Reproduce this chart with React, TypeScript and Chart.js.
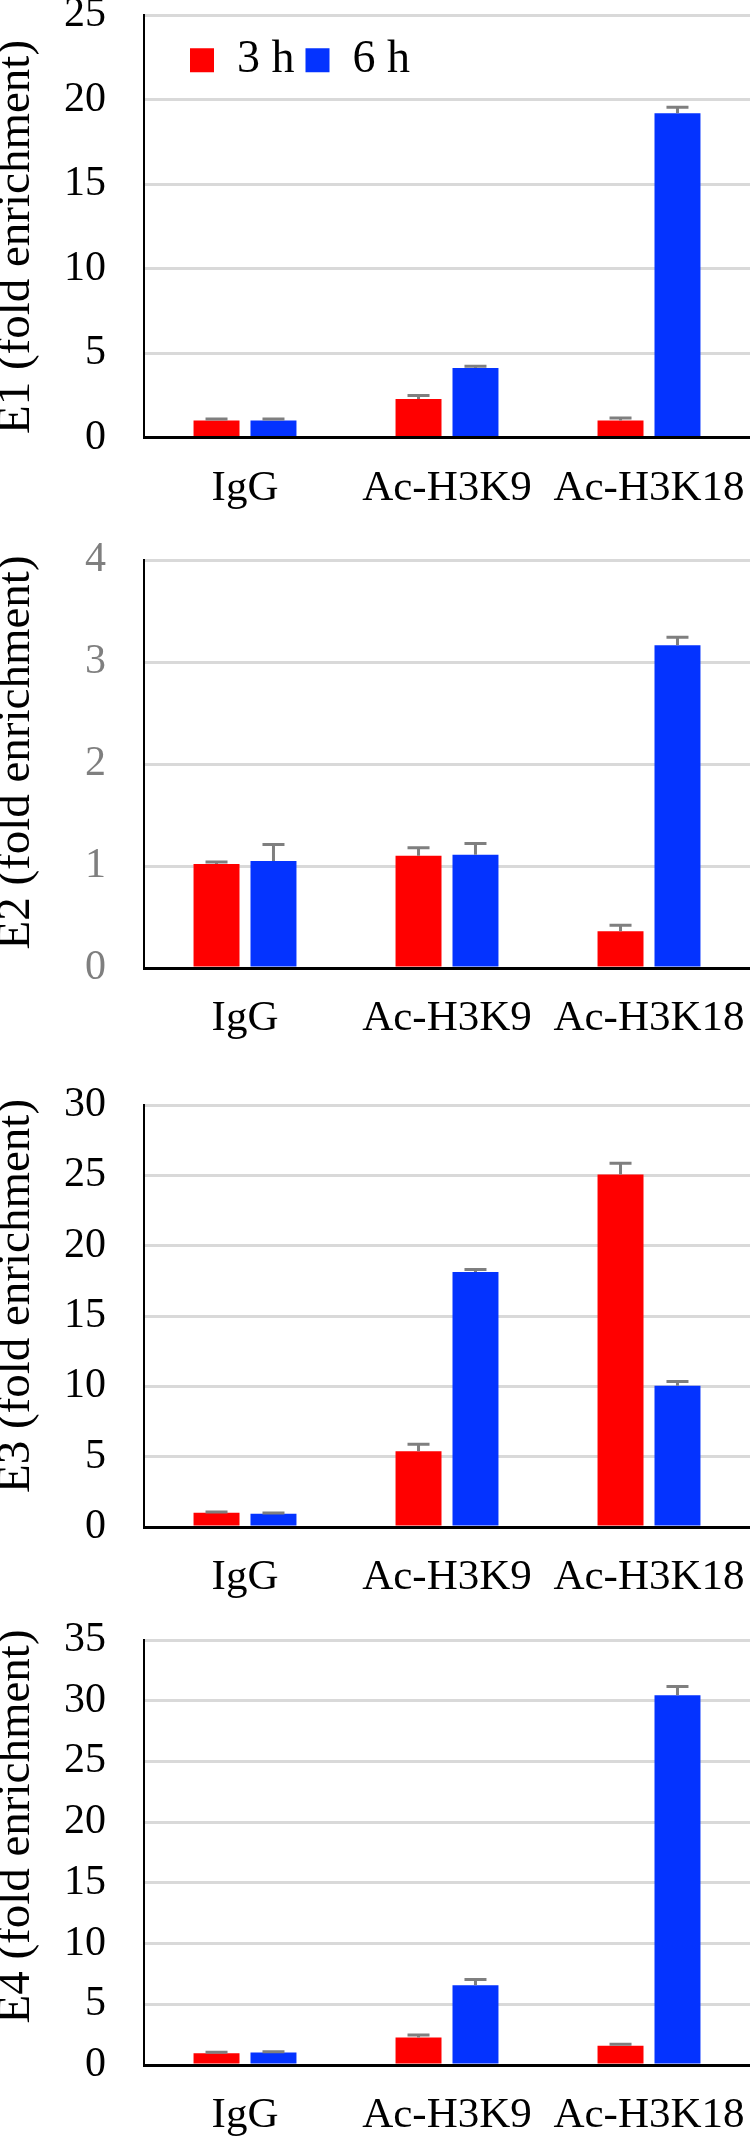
import React, { useEffect, useRef } from "react";
import { Chart, registerables } from "chart.js";

Chart.register(...registerables);

// ---------- data ----------
const categories = ["IgG", "Ac-H3K9", "Ac-H3K18"];
const seriesLabels = ["3 h", "6 h"];

const e1ThreeH = [1.0, 2.28, 1.0];
const e1SixH = [1.0, 4.12, 19.2];
const e1ThreeHErr = [0.1, 0.2, 0.15];
const e1SixHErr = [0.1, 0.1, 0.35];

const e2ThreeH = [1.02, 1.1, 0.36];
const e2SixH = [1.05, 1.11, 3.165];
const e2ThreeHErr = [0.02, 0.08, 0.06];
const e2SixHErr = [0.16, 0.11, 0.077];

const e3ThreeH = [1.01, 5.38, 25.06];
const e3SixH = [0.94, 18.13, 10.04];
const e3ThreeHErr = [0.05, 0.5, 0.8];
const e3SixHErr = [0.05, 0.18, 0.3];

const e4ThreeH = [0.97, 2.27, 1.59];
const e4SixH = [1.03, 6.57, 30.44];
const e4ThreeHErr = [0.08, 0.2, 0.12];
const e4SixHErr = [0.06, 0.47, 0.73];

const yTitles = [
  "E1 (fold enrichment)",
  "E2 (fold enrichment)",
  "E3 (fold enrichment)",
  "E4 (fold enrichment)",
];
const yMaxes = [25, 4, 30, 35];
const ySteps = [5, 1, 5, 5];

// ---------- styles / layout ----------
const RED = "#ff0000";
const BLUE = "#0433ff";
const ERR = "#7f7f7f";
const FONT = "'Liberation Serif', 'Times New Roman', serif";

const panelLayout = [
  { top: 0, height: 515, gridTop: 15.2, zero: 437.5, titleY: 237, tickColor: "#000000", legend: true },
  { top: 518, height: 527, gridTop: 560, zero: 968, titleY: 234.5, tickColor: "#7f7f7f", legend: false },
  { top: 1047, height: 557, gridTop: 1105, zero: 1527, titleY: 249, tickColor: "#000000", legend: false },
  { top: 1606, height: 535, gridTop: 1640, zero: 2065, titleY: 220.5, tickColor: "#000000", legend: false },
];

const panelData = [
  { three: e1ThreeH, six: e1SixH, threeErr: e1ThreeHErr, sixErr: e1SixHErr },
  { three: e2ThreeH, six: e2SixH, threeErr: e2ThreeHErr, sixErr: e2SixHErr },
  { three: e3ThreeH, six: e3SixH, threeErr: e3ThreeHErr, sixErr: e3SixHErr },
  { three: e4ThreeH, six: e4SixH, threeErr: e4ThreeHErr, sixErr: e4SixHErr },
];

const X_AXIS_HEIGHT = 75;
const Y_AXIS_WIDTH = 144;

const errorBarPlugin = {
  id: "errorBars",
  afterDatasetsDraw(chart: any) {
    const ctx = chart.ctx;
    const yScale = chart.scales.y;
    chart.data.datasets.forEach((ds: any, i: number) => {
      const meta = chart.getDatasetMeta(i);
      const errs: number[] = ds.errors || [];
      meta.data.forEach((bar: any, j: number) => {
        const v = ds.data[j] as number;
        const e = errs[j] || 0;
        const yTop = yScale.getPixelForValue(v + e);
        const x = bar.x;
        ctx.save();
        ctx.strokeStyle = ERR;
        ctx.lineWidth = 3;
        ctx.lineCap = "butt";
        ctx.beginPath();
        ctx.moveTo(x, bar.y);
        ctx.lineTo(x, yTop);
        ctx.moveTo(x - 11, yTop);
        ctx.lineTo(x + 11, yTop);
        ctx.stroke();
        ctx.restore();
      });
    });
  },
};

// legend is laid out at the top with ~zero height, then moved inside the plot area
const legendShiftPlugin = {
  id: "legendShift",
  afterLayout(chart: any) {
    const lg = chart.legend;
    if (lg && chart.options.plugins.legend.display) {
      lg.left += 179;
      lg.top += 11;
      lg.height = 70;
      lg.bottom = lg.top + 70;
      lg.right = chart.width;
      lg.width = lg.right - lg.left;
    }
  },
};

const yTitlePlugin = {
  id: "yTitle",
  afterDraw(chart: any, _args: any, opts: any) {
    if (!opts || !opts.text) return;
    const ctx = chart.ctx;
    ctx.save();
    ctx.translate(opts.x, opts.y);
    ctx.rotate(-Math.PI / 2);
    ctx.font = `47px ${FONT}`;
    ctx.fillStyle = "#000000";
    ctx.textAlign = "center";
    ctx.textBaseline = "middle";
    ctx.fillText(opts.text, 0, 0);
    ctx.restore();
  },
};

function Panel({ idx }: { idx: number }) {
  const ref = useRef<HTMLCanvasElement | null>(null);
  const lay = panelLayout[idx];
  const d = panelData[idx];

  useEffect(() => {
    if (!ref.current) return;
    const padTop = lay.gridTop - lay.top;
    const padBottom = lay.height - (lay.zero - lay.top) - X_AXIS_HEIGHT;
    const chart = new Chart(ref.current, {
      type: "bar",
      data: {
        labels: categories,
        datasets: [
          {
            label: seriesLabels[0],
            data: d.three,
            errors: d.threeErr,
            backgroundColor: RED,
            borderWidth: 0,
            categoryPercentage: 0.564,
            barPercentage: 0.807,
          } as any,
          {
            label: seriesLabels[1],
            data: d.six,
            errors: d.sixErr,
            backgroundColor: BLUE,
            borderWidth: 0,
            categoryPercentage: 0.564,
            barPercentage: 0.807,
          } as any,
        ],
      },
      options: {
        responsive: false,
        animation: false,
        devicePixelRatio: 1,
        layout: { padding: { top: padTop, bottom: padBottom, left: 0, right: 0 } },
        plugins: {
          legend: {
            display: lay.legend,
            position: "top",
            align: "start",
            maxHeight: 0.001,
            labels: {
              boxWidth: 24,
              boxHeight: 24,
              padding: 11,
              color: "#000000",
              font: { family: FONT, size: 46 },
            },
          },
          tooltip: { enabled: false },
          yTitle: { text: yTitles[idx], x: 17, y: lay.titleY },
        },
        scales: {
          x: {
            type: "category",
            offset: true,
            z: 1,
            grid: { display: false, drawTicks: false },
            border: { display: true, color: "#000000", width: 3 },
            ticks: {
              color: "#000000",
              font: { family: FONT, size: 43, lineHeight: 1.0 },
              padding: 29.5,
              maxRotation: 0,
              minRotation: 0,
              autoSkip: false,
            },
            afterFit: (scale: any) => {
              scale.height = X_AXIS_HEIGHT;
              scale.paddingLeft = 0;
              scale.paddingRight = 0;
            },
          },
          y: {
            min: 0,
            max: yMaxes[idx],
            grid: { color: "#d9d9d9", lineWidth: 3, drawTicks: false },
            border: { display: true, color: "#000000", width: 2 },
            ticks: {
              stepSize: ySteps[idx],
              color: lay.tickColor,
              font: { family: FONT, size: 42 },
              padding: 38,
            },
            title: { display: false },
            afterFit: (scale: any) => {
              scale.width = Y_AXIS_WIDTH;
              scale.paddingTop = 0;
              scale.paddingBottom = 0;
            },
          },
        },
      } as any,
      plugins: [errorBarPlugin, legendShiftPlugin, yTitlePlugin],
    });
    return () => chart.destroy();
  }, []);

  return (
    <canvas
      ref={ref}
      width={750}
      height={lay.height}
      style={{ position: "absolute", left: 0, top: lay.top, display: "block" }}
    />
  );
}

export default function App() {
  useEffect(() => {
    document.body.style.margin = "0";
  }, []);
  return (
    <div style={{ position: "relative", width: 750, height: 2141, background: "#ffffff", overflow: "hidden" }}>
      {panelLayout.map((_, i) => (
        <Panel key={i} idx={i} />
      ))}
    </div>
  );
}
